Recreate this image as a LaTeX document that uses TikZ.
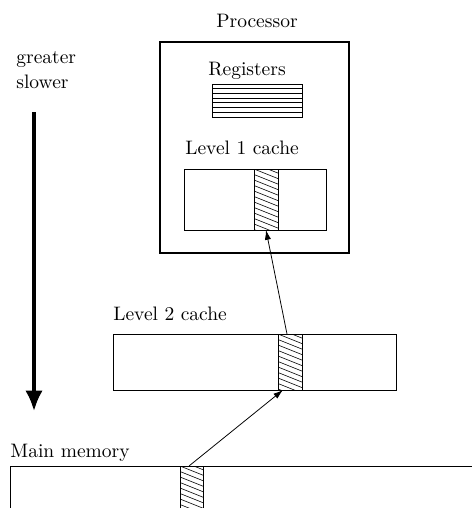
\documentclass[tikz,border=0pt]{standalone}
\usetikzlibrary{arrows.meta}
\tikzset{
  box/.style={draw, line width=0.45pt},
  outer/.style={draw, line width=0.7pt},
  hatch/.style={line width=0.3pt},
  lbl/.style={inner sep=0pt, anchor=base west},
  link/.style={line width=0.4pt, -{Latex[length=5pt,width=3.2pt]}},
  speed/.style={line width=1.6pt, -{Latex[length=10.5pt,width=9pt]}}
}
\newcommand\myhatch[4]{%
  \begin{scope}
    \clip (#1,#2) rectangle (#3,#4);
    \foreach \k in {-12,...,30}
      \draw[hatch] (#1,#2+\k*5.5) -- ++(30,12);
  \end{scope}
  \draw[box] (#1,#2) rectangle (#3,#4);
}
\begin{document}
\begin{tikzpicture}[x=0.5128pt,y=-0.5128pt]
\useasboundingbox (0,0) rectangle (471,508);

% left labels and arrow
\node[lbl] (greater) at (16,63) {greater};
\node[lbl] (slower) at (16,88) {slower};
\coordinate (sp1) at (34,112);
\coordinate (sp2) at (34,411);
\draw[speed] (sp1) -- (sp2);

% processor
\node[inner sep=0pt, anchor=base] (proc) at (257,27) {Processor};
\draw[outer] (160,42) rectangle (349,253);
\node[inner sep=0pt, anchor=base] (reg) at (247,75) {Registers};
\draw[box] (212,84) rectangle (302,117);
\foreach \yy in {88.7,93.4,98.1,102.9,107.6,112.3}
  \draw[line width=0.45pt] (212,\yy) -- (302,\yy);

% level 1
\node[lbl] (l1) at (185,154) {Level 1 cache};
\draw[box] (184,169) rectangle (326,230);
\myhatch{254}{169}{278}{230}
\coordinate (l1b) at (266,230);

% level 2
\node[lbl] (l2) at (113,320) {Level 2 cache};
\draw[box] (113,334) rectangle (396,390);
\myhatch{278}{334}{302}{390}
\coordinate (l2t) at (287,334);
\coordinate (l2b) at (283,390);

% main memory
\node[lbl] (mm) at (10,457) {Main memory};
\draw[box] (10,520) -- (10,466) -- (480,466);
\myhatch{180}{466}{203}{520}
\coordinate (mmt) at (189,466);

% connectors
\draw[link] (l2t) -- (l1b);
\draw[link] (mmt) -- (l2b);
\end{tikzpicture}
\end{document}
